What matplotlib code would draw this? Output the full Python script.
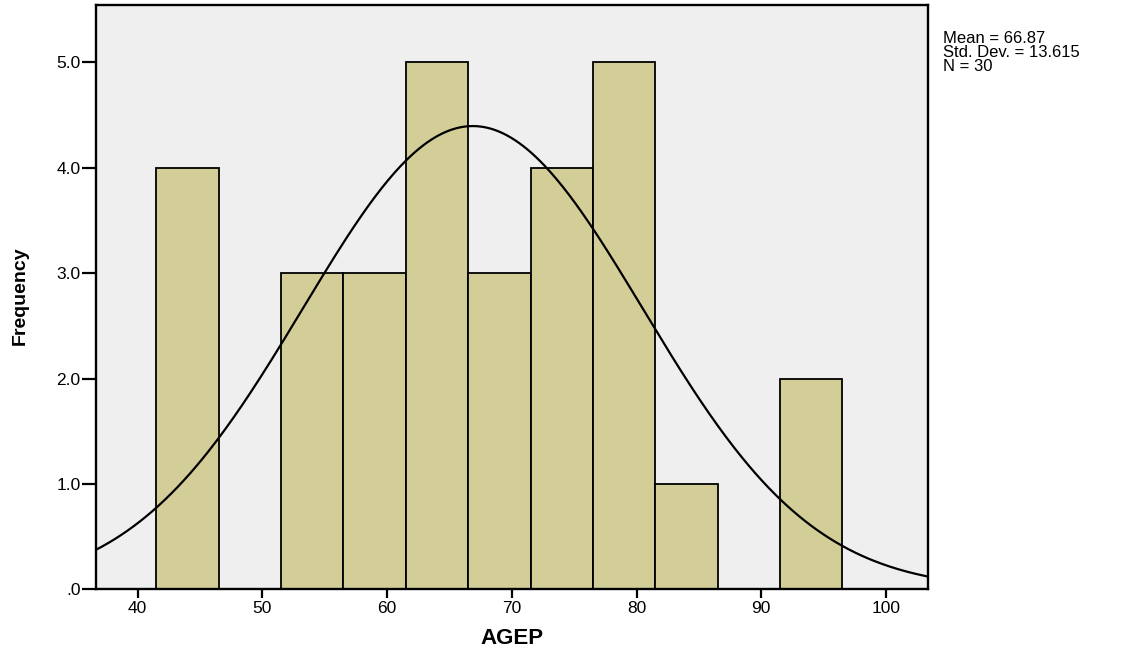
import numpy as np
import matplotlib
matplotlib.use("Agg")
import matplotlib.pyplot as plt

# ---- data ----
bin_edges = [41.5, 46.5, 51.5, 56.5, 61.5, 66.5, 71.5, 76.5, 81.5, 86.5, 91.5, 96.5]
counts = [4, 0, 3, 3, 5, 3, 4, 5, 1, 0, 2]
mean_val = 66.87
std_val = 13.615
n_val = 30
x_ticks = [40, 50, 60, 70, 80, 90, 100]
y_ticks = [0, 1, 2, 3, 4, 5]
y_tick_labels = [".0", "1.0", "2.0", "3.0", "4.0", "5.0"]
x_label = "AGEP"
y_label = "Frequency"
stats_text = f"Mean = {mean_val}\nStd. Dev. = {std_val}\nN = {n_val}"

plt.rcParams['font.family'] = ['Liberation Sans', 'DejaVu Sans']

fig = plt.figure(figsize=(11.25, 6.5), dpi=100)
ax = fig.add_axes([0.0853, 0.0934, 0.7396, 0.8994])
ax.set_facecolor("#EFEFEF")

edges = np.array(bin_edges)
widths = np.diff(edges)
ax.bar(edges[:-1], counts, width=widths, align='edge', color="#D3CE98",
       edgecolor="black", linewidth=1.3, zorder=2)

xmin, xmax = 36.66, 103.37
xs = np.linspace(xmin, xmax, 400)
bw = widths[0]
ys = n_val * bw * np.exp(-0.5 * ((xs - mean_val) / std_val) ** 2) / (std_val * np.sqrt(2 * np.pi))
ax.plot(xs, ys, color="black", linewidth=1.6, zorder=3)

ax.set_xlim(xmin, xmax)
ax.set_ylim(0, 5.547)
ax.set_xticks(x_ticks)
ax.set_xticklabels([str(v) for v in x_ticks])
ax.set_yticks(y_ticks)
ax.set_yticklabels(y_tick_labels)

for s in ax.spines.values():
    s.set_linewidth(1.7)
    s.set_color("black")

ax.tick_params(axis='x', direction='out', length=6.5, width=1.6, labelsize=12.5, pad=2)
ax.tick_params(axis='y', direction='out', length=10, width=1.6, labelsize=12.5, pad=1)

ax.set_xlabel(x_label, fontsize=16, fontweight='bold', va='center')
ax.xaxis.set_label_coords(0.5, -0.085)
ax.set_ylabel(y_label, fontsize=14, fontweight='bold', va='center', ha='center')
ax.yaxis.set_label_coords(-0.0913, 0.503)

fig.text(943 / 1125, 1 - 31 / 650, stats_text, fontsize=12, va='top', ha='left',
         linespacing=0.9)

fig.savefig("out.png", dpi=100)
